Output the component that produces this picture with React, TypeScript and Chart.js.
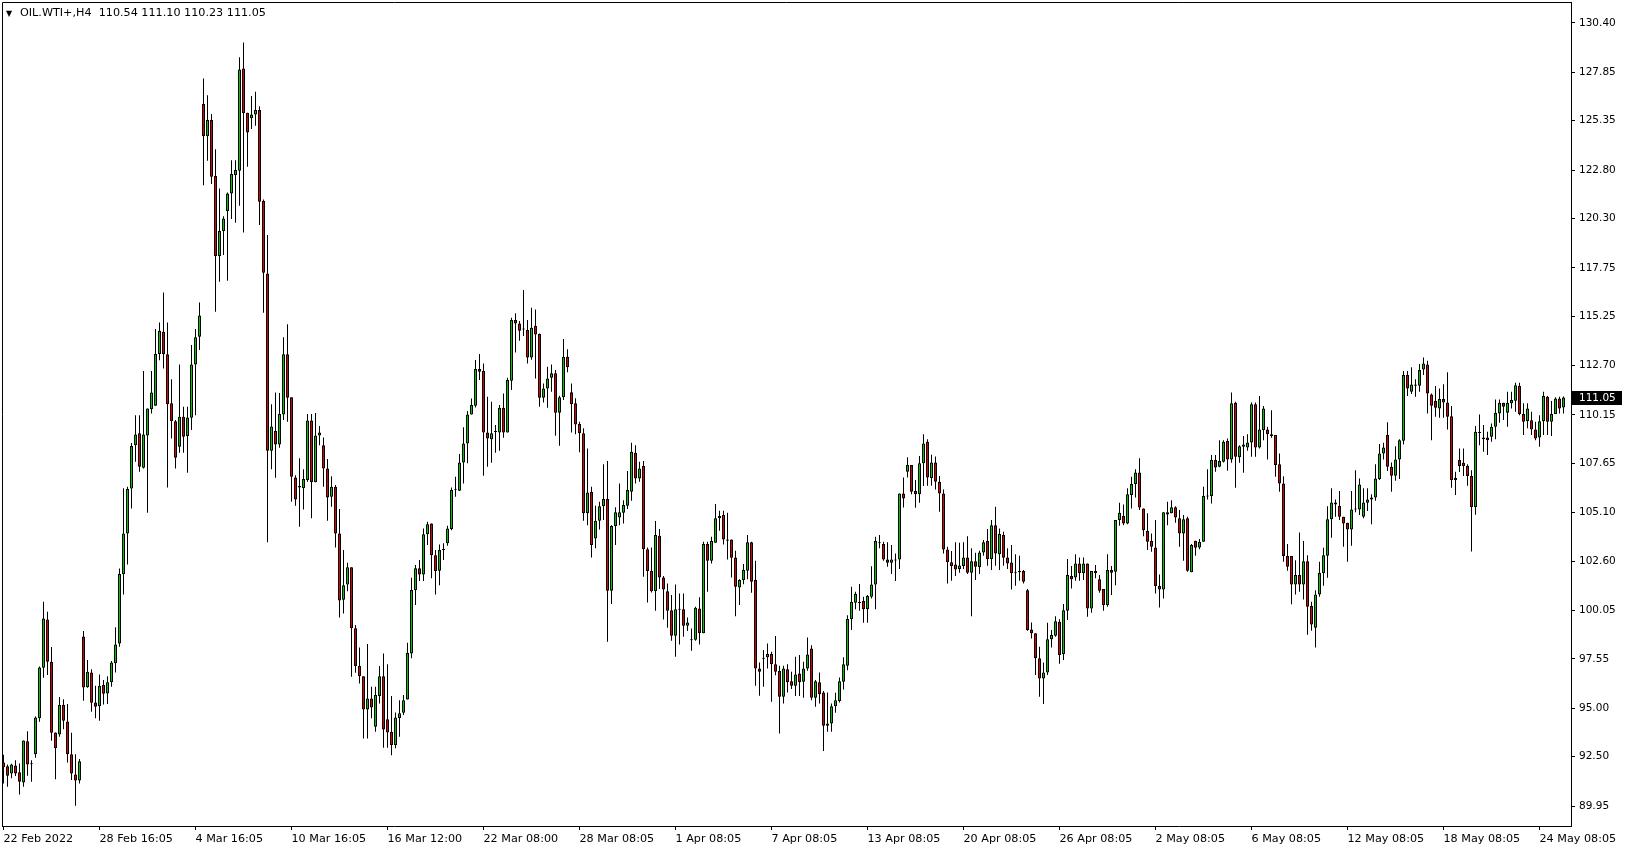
import React, { useEffect, useRef } from 'react';
import { Chart, registerables } from 'chart.js';

Chart.register(...registerables);

// ---- data (H4 bars, index 0 = 22 Feb 2022 00:00) ----
const opens: number[] = [
  92.20, 92.01, 91.63, 92.05, 91.70, 91.17, 93.30, 92.13, 92.62, 94.48,
  97.09, 99.59, 97.40, 93.75, 93.65, 95.17, 94.32, 92.62, 91.58, 91.27,
  98.71, 96.09, 96.85, 95.30, 95.11, 96.20, 95.77, 96.34, 97.32, 98.35,
  101.92, 104.03, 106.35, 108.59, 109.20, 107.42, 109.09, 110.44, 110.63, 113.30,
  114.45, 113.28, 110.75, 109.83, 108.51, 110.06, 109.06, 110.01, 112.76, 114.19,
  126.21, 124.55, 125.38, 122.49, 118.36, 119.65, 120.68, 121.59, 122.54, 122.76,
  128.05, 125.76, 125.47, 125.67, 125.90, 121.20, 117.46, 108.30, 109.32, 108.63,
  110.18, 113.28, 111.06, 106.92, 106.48, 106.36, 106.79, 109.87, 106.67, 109.09,
  108.58, 107.39, 105.93, 106.44, 104.03, 100.60, 101.40, 102.28, 99.13, 97.18,
  96.66, 94.94, 95.51, 94.04, 95.63, 96.66, 94.43, 93.79, 93.10, 94.50,
  94.77, 95.46, 97.83, 101.11, 102.23, 101.91, 103.99, 104.55, 102.91, 102.10,
  103.18, 103.52, 104.26, 106.30, 106.24, 107.70, 108.68, 110.18, 110.63, 112.52,
  112.42, 109.25, 108.89, 109.29, 109.25, 110.52, 109.25, 111.92, 115.05, 114.88,
  114.59, 114.54, 113.12, 114.74, 114.33, 111.04, 111.52, 112.07, 112.30, 110.27,
  111.06, 113.16, 111.32, 110.75, 109.68, 109.20, 105.07, 106.18, 103.77, 104.69,
  105.44, 105.81, 101.07, 104.41, 104.86, 105.10, 105.46, 106.18, 108.20, 106.87,
  107.51, 103.21, 102.09, 101.05, 103.91, 101.76, 101.05, 100.07, 98.75, 100.12,
  100.12, 99.26, 98.54, 98.54, 100.16, 98.87, 103.48, 102.62, 103.55, 104.81,
  104.98, 103.72, 103.72, 102.79, 101.24, 101.62, 102.10, 103.57, 101.62, 97.06,
  97.58, 97.63, 97.80, 97.27, 96.92, 95.60, 97.02, 96.40, 96.16, 96.80,
  96.37, 97.06, 98.09, 95.54, 96.34, 95.82, 94.10, 94.22, 95.11, 95.37,
  96.37, 97.20, 99.61, 100.45, 100.47, 100.54, 100.12, 100.76, 101.40, 103.55,
  103.48, 102.69, 102.52, 102.69, 102.69, 106.10, 107.22, 107.56, 106.22, 106.05,
  107.65, 108.77, 106.90, 107.70, 106.70, 106.10, 103.20, 102.54, 102.43, 102.19,
  102.35, 102.79, 102.00, 102.60, 102.28, 103.05, 103.64, 102.71, 104.46, 102.95,
  103.95, 102.79, 102.53, 102.02, 102.02, 102.09, 101.10, 99.07, 98.87, 97.58,
  96.54, 96.85, 98.56, 98.75, 99.47, 97.80, 100.04, 101.83, 101.76, 102.48,
  101.97, 102.48, 100.16, 102.09, 101.66, 101.16, 100.33, 102.14, 102.05, 104.72,
  104.93, 104.55, 106.01, 106.58, 107.18, 105.32, 104.17, 103.64, 103.31, 101.31,
  101.14, 105.12, 105.07, 105.38, 104.81, 104.03, 104.81, 102.02, 103.65, 103.31,
  103.60, 105.96, 105.96, 107.82, 107.48, 107.73, 108.80, 107.85, 110.78, 107.96,
  108.51, 108.47, 108.73, 110.71, 108.47, 109.37, 109.40, 109.16, 109.11, 107.61,
  106.61, 102.86, 102.86, 101.40, 101.88, 101.40, 102.60, 100.28, 99.16, 100.88,
  101.97, 102.88, 104.77, 105.63, 105.46, 104.89, 104.58, 104.24, 105.27, 105.27,
  104.89, 105.61, 105.79, 105.89, 106.84, 108.16, 109.11, 107.48, 107.01, 107.85,
  108.82, 112.21, 111.35, 111.73, 111.66, 112.50, 112.76, 111.21, 110.87, 110.49,
  110.97, 110.80, 110.09, 106.79, 107.82, 107.68, 107.53, 107.00, 105.40, 109.25,
  108.99, 108.99, 109.02, 109.54, 110.23, 110.78, 110.26, 110.75, 110.88, 111.64,
  110.20, 109.83, 109.88, 109.40, 108.99, 109.83, 111.09, 109.80, 110.20, 111.00,
  110.54,
];
const highs: number[] = [
  92.60, 92.10, 92.13, 92.32, 92.15, 93.34, 93.82, 92.32, 94.58, 97.16,
  100.50, 99.99, 98.16, 93.75, 95.58, 95.47, 95.22, 93.74, 92.62, 92.38,
  98.99, 97.49, 97.02, 96.16, 96.75, 96.46, 96.66, 97.44, 99.18, 102.22,
  106.36, 106.44, 108.70, 110.14, 110.14, 112.42, 110.49, 112.42, 114.59, 114.93,
  116.48, 114.93, 112.00, 109.89, 112.76, 110.57, 110.57, 113.76, 114.59, 115.96,
  127.53, 126.67, 125.69, 123.88, 121.85, 120.42, 121.64, 123.31, 123.31, 128.62,
  129.39, 125.76, 126.62, 126.84, 126.10, 121.28, 119.44, 110.71, 111.31, 111.28,
  114.16, 114.84, 111.06, 107.04, 107.91, 107.34, 110.20, 110.20, 110.25, 109.58,
  108.99, 107.87, 106.99, 106.53, 105.29, 103.17, 102.52, 102.28, 99.30, 98.14,
  96.66, 98.32, 96.11, 96.11, 97.18, 97.83, 97.28, 95.63, 94.78, 95.42,
  95.68, 98.38, 101.74, 102.40, 102.66, 104.29, 104.64, 104.55, 103.17, 103.46,
  103.52, 104.43, 106.41, 106.96, 108.13, 109.51, 110.35, 111.00, 112.99, 113.30,
  112.81, 111.09, 110.83, 109.63, 110.66, 111.26, 112.07, 115.17, 115.40, 115.00,
  116.60, 115.05, 115.69, 115.60, 114.36, 111.78, 112.64, 112.76, 112.47, 111.14,
  114.07, 113.55, 111.78, 111.01, 109.80, 109.46, 108.42, 106.44, 105.46, 105.67,
  107.61, 107.77, 104.46, 105.38, 106.61, 105.75, 107.25, 108.72, 108.59, 107.73,
  107.77, 103.31, 103.31, 104.67, 104.26, 101.83, 101.45, 100.85, 101.40, 100.93,
  100.93, 99.69, 99.12, 100.25, 100.73, 103.60, 103.60, 103.86, 105.55, 105.20,
  105.20, 105.10, 103.72, 103.14, 101.66, 102.45, 103.95, 103.60, 102.62, 97.37,
  98.01, 98.35, 97.92, 98.73, 97.20, 97.20, 97.28, 96.89, 97.66, 97.75,
  97.40, 98.66, 98.26, 96.46, 96.85, 95.89, 95.82, 95.25, 95.80, 96.59,
  97.63, 99.81, 101.28, 101.02, 101.42, 100.76, 100.85, 102.34, 103.86, 103.95,
  103.60, 103.57, 103.43, 103.00, 106.10, 106.92, 107.96, 107.56, 106.79, 108.03,
  109.16, 108.90, 108.10, 108.00, 107.00, 106.30, 103.34, 103.12, 103.57, 103.55,
  103.57, 103.89, 103.26, 103.03, 103.14, 103.69, 104.26, 104.72, 105.41, 104.29,
  104.12, 103.26, 103.43, 102.96, 102.88, 102.14, 101.16, 99.43, 98.87, 98.18,
  97.37, 99.42, 99.04, 99.76, 99.60, 100.38, 102.71, 102.35, 102.96, 102.79,
  102.79, 102.48, 102.09, 102.40, 101.88, 101.16, 102.96, 102.35, 104.72, 105.62,
  105.53, 106.36, 106.96, 107.34, 107.91, 105.32, 105.07, 104.03, 104.72, 101.91,
  105.12, 105.67, 105.75, 105.44, 105.24, 104.98, 104.89, 103.48, 103.65, 103.74,
  106.44, 107.35, 108.08, 108.08, 108.85, 108.85, 108.94, 111.31, 110.83, 108.59,
  109.06, 109.16, 110.80, 110.80, 111.13, 110.61, 109.54, 110.40, 109.11, 108.16,
  106.99, 103.48, 102.86, 102.65, 104.08, 103.64, 102.91, 100.50, 101.10, 102.57,
  103.29, 105.44, 106.36, 105.79, 106.22, 104.89, 104.58, 106.22, 107.30, 106.87,
  106.36, 106.36, 106.05, 107.61, 108.65, 108.72, 109.77, 107.70, 108.54, 108.90,
  112.42, 112.42, 112.61, 112.00, 112.78, 113.12, 112.95, 111.26, 111.64, 111.52,
  111.74, 112.35, 110.61, 107.22, 108.42, 108.42, 107.60, 107.30, 109.58, 110.18,
  109.63, 109.28, 109.71, 110.95, 110.95, 110.78, 111.35, 111.35, 111.81, 111.81,
  110.75, 110.75, 110.32, 109.80, 110.14, 111.35, 111.13, 110.87, 111.06, 111.09,
  111.10,
];
const lows: number[] = [
  91.12, 90.95, 91.38, 91.50, 90.55, 90.95, 91.52, 91.20, 92.44, 94.30,
  96.58, 96.72, 93.32, 91.34, 93.53, 93.92, 92.20, 91.29, 89.96, 91.12,
  95.39, 96.06, 94.82, 94.48, 94.35, 95.20, 95.22, 96.11, 96.85, 98.18,
  100.88, 102.43, 105.32, 107.73, 107.22, 107.39, 105.10, 110.23, 110.63, 112.98,
  112.55, 106.41, 108.94, 107.39, 108.20, 108.20, 107.17, 109.37, 110.14, 113.50,
  122.02, 123.28, 122.08, 115.48, 117.03, 118.41, 117.08, 120.27, 120.08, 120.96,
  119.58, 122.97, 124.92, 125.09, 119.96, 115.43, 103.57, 107.34, 106.91, 108.46,
  109.89, 109.80, 105.67, 105.46, 104.38, 105.27, 106.70, 104.81, 106.67, 108.59,
  106.44, 104.69, 105.41, 103.31, 99.69, 99.90, 101.05, 96.63, 96.83, 96.28,
  93.44, 93.44, 94.48, 93.79, 95.25, 92.96, 92.96, 92.58, 92.93, 93.53,
  94.65, 95.46, 97.58, 100.33, 101.57, 101.57, 103.43, 101.71, 100.88, 101.36,
  102.66, 103.39, 104.20, 105.93, 106.22, 106.61, 107.65, 110.18, 110.54, 111.95,
  107.01, 107.48, 107.68, 108.20, 108.30, 108.97, 109.25, 111.44, 113.38, 113.98,
  114.23, 112.81, 113.00, 112.04, 110.58, 110.80, 110.52, 111.35, 109.08, 108.56,
  110.92, 112.35, 109.25, 109.15, 108.22, 104.69, 104.46, 102.79, 103.26, 104.24,
  104.72, 98.44, 100.38, 103.43, 104.46, 104.55, 105.29, 105.72, 106.61, 106.70,
  101.79, 100.47, 100.98, 100.04, 101.16, 99.59, 99.16, 98.49, 97.66, 98.30,
  98.70, 98.99, 97.97, 98.49, 98.30, 98.87, 101.02, 102.48, 103.55, 104.17,
  103.46, 102.69, 101.76, 99.76, 100.33, 101.41, 101.66, 100.97, 96.16, 95.65,
  96.11, 97.06, 95.34, 96.71, 93.70, 95.25, 95.82, 95.99, 95.63, 95.63,
  95.54, 96.94, 95.42, 95.08, 95.25, 92.79, 93.79, 93.79, 94.77, 95.30,
  95.97, 96.97, 99.04, 100.12, 100.04, 99.42, 99.42, 100.67, 100.12, 103.26,
  102.62, 102.31, 101.93, 101.57, 102.19, 105.37, 106.92, 106.06, 105.36, 105.62,
  106.48, 106.50, 106.50, 106.30, 105.15, 103.00, 101.45, 101.59, 101.83, 102.00,
  102.19, 101.93, 99.76, 101.62, 101.93, 102.88, 102.36, 102.14, 102.36, 102.14,
  102.36, 102.19, 101.14, 101.33, 101.59, 101.45, 99.00, 98.61, 96.72, 95.60,
  95.22, 96.72, 98.14, 98.70, 97.30, 97.50, 99.56, 101.19, 101.59, 101.59,
  101.62, 99.73, 99.93, 101.71, 100.97, 100.04, 100.24, 100.85, 101.36, 104.43,
  104.46, 104.51, 105.32, 105.89, 105.24, 103.89, 103.17, 103.08, 100.93, 100.21,
  100.67, 104.46, 105.07, 104.58, 103.34, 102.62, 102.05, 102.02, 102.88, 103.21,
  103.60, 105.79, 105.58, 107.22, 107.45, 107.70, 107.27, 107.68, 106.39, 107.68,
  107.17, 108.30, 107.99, 107.99, 108.42, 108.85, 107.85, 108.97, 106.96, 106.18,
  102.57, 102.10, 100.37, 100.88, 101.02, 100.62, 98.80, 99.00, 98.14, 100.76,
  101.33, 101.74, 103.81, 104.89, 104.72, 103.34, 102.57, 103.40, 105.12, 104.98,
  104.81, 105.19, 104.51, 105.72, 106.79, 107.85, 107.25, 106.18, 106.75, 106.84,
  108.63, 111.13, 111.23, 111.09, 111.35, 112.21, 110.23, 108.85, 110.06, 110.01,
  110.01, 109.40, 106.39, 106.01, 107.20, 107.00, 106.50, 103.10, 105.00, 108.59,
  108.25, 108.08, 108.77, 108.90, 109.75, 109.89, 109.54, 110.49, 110.32, 110.14,
  109.11, 109.46, 109.11, 108.85, 108.51, 109.11, 109.11, 109.06, 110.20, 110.23,
  110.23,
];
const closes: number[] = [
  91.96, 91.52, 92.10, 91.63, 91.20, 93.34, 92.10, 92.13, 94.53, 97.11,
  99.64, 97.40, 93.74, 92.93, 95.17, 94.36, 92.62, 91.63, 91.27, 92.27,
  96.08, 96.89, 95.29, 95.08, 96.16, 95.75, 96.34, 97.37, 98.30, 101.93,
  104.03, 106.32, 108.55, 109.14, 107.47, 109.14, 110.49, 111.31, 113.30, 114.50,
  113.28, 110.70, 109.83, 107.94, 110.06, 109.03, 110.02, 112.76, 114.16, 115.29,
  124.55, 125.38, 122.45, 118.36, 119.65, 120.30, 121.59, 122.59, 122.80, 127.99,
  125.73, 124.74, 125.67, 125.90, 121.16, 117.50, 108.30, 109.56, 108.63, 110.20,
  113.28, 111.04, 106.96, 105.79, 106.41, 106.84, 109.87, 106.67, 109.09, 109.25,
  107.39, 105.89, 106.44, 104.03, 100.57, 101.35, 102.28, 99.13, 97.18, 96.66,
  94.94, 95.51, 95.04, 95.68, 96.66, 93.91, 93.75, 93.10, 94.53, 94.75,
  95.42, 97.87, 101.11, 102.23, 101.91, 103.99, 104.51, 102.91, 102.09, 103.17,
  103.22, 104.29, 106.27, 106.33, 107.70, 108.68, 110.18, 110.66, 112.52, 112.38,
  109.25, 108.94, 109.20, 109.30, 110.52, 109.25, 111.95, 115.05, 114.88, 114.50,
  114.59, 113.12, 114.66, 114.31, 111.04, 111.52, 112.04, 112.30, 110.27, 111.06,
  113.16, 112.61, 110.70, 109.66, 109.20, 105.07, 106.15, 103.43, 104.69, 105.44,
  105.81, 101.07, 104.41, 105.12, 105.12, 105.50, 106.27, 108.25, 106.87, 107.39,
  103.21, 102.09, 101.05, 103.95, 101.76, 101.14, 100.04, 98.75, 100.12, 100.12,
  99.26, 99.43, 98.54, 100.19, 98.87, 103.48, 102.62, 103.64, 104.81, 104.93,
  103.72, 103.65, 102.78, 101.28, 101.62, 102.14, 103.57, 101.54, 97.06, 96.89,
  97.58, 97.80, 97.27, 96.89, 95.60, 97.06, 96.34, 96.16, 96.75, 96.34,
  97.06, 97.78, 95.54, 96.40, 95.73, 94.10, 94.22, 95.11, 95.42, 96.40,
  97.27, 99.61, 100.50, 100.90, 100.47, 100.12, 100.80, 101.40, 103.64, 103.55,
  102.69, 102.52, 102.69, 102.64, 106.10, 105.84, 107.56, 106.18, 106.05, 107.65,
  108.68, 106.92, 107.70, 106.70, 106.10, 103.20, 102.54, 102.35, 102.17, 102.38,
  102.79, 102.00, 102.60, 102.31, 103.05, 103.57, 102.71, 104.46, 103.00, 104.00,
  102.78, 102.48, 101.97, 101.97, 102.09, 101.54, 99.04, 98.87, 97.58, 96.54,
  96.85, 98.56, 98.78, 99.50, 97.75, 100.07, 101.88, 101.66, 102.48, 101.97,
  102.48, 100.16, 102.09, 101.97, 101.07, 100.33, 102.14, 102.00, 104.72, 105.10,
  104.55, 106.06, 106.58, 107.18, 105.37, 104.20, 103.60, 103.34, 101.31, 101.14,
  105.12, 105.01, 105.38, 104.86, 104.03, 104.77, 102.10, 103.43, 103.29, 103.60,
  105.96, 105.96, 107.82, 107.44, 107.77, 108.77, 107.85, 110.75, 107.99, 108.54,
  108.63, 108.73, 110.71, 108.47, 109.40, 110.49, 109.16, 109.06, 107.56, 106.61,
  102.86, 102.31, 101.40, 101.88, 101.40, 102.60, 100.24, 99.33, 100.88, 102.00,
  102.91, 104.77, 105.63, 105.53, 104.89, 104.55, 104.24, 105.27, 105.32, 106.56,
  105.63, 105.79, 105.89, 106.87, 108.16, 108.47, 107.48, 107.01, 107.85, 108.85,
  112.21, 111.52, 111.73, 111.66, 112.47, 112.81, 111.26, 110.63, 110.52, 110.97,
  110.80, 110.06, 106.79, 106.90, 107.51, 107.51, 107.00, 105.40, 109.28, 109.25,
  108.89, 108.85, 109.54, 110.26, 110.78, 110.58, 110.78, 110.92, 111.69, 110.20,
  109.80, 110.49, 109.40, 108.94, 109.83, 111.13, 109.80, 110.20, 111.00, 110.49,
  111.05,
];

const timeTickBars: number[] = [0, 24, 48, 72, 96, 120, 144, 168, 192, 216, 240, 264, 288, 312, 336, 360, 384];
const timeTickLabels: string[] = [
  '22 Feb 2022', '28 Feb 16:05', '4 Mar 16:05', '10 Mar 16:05', '16 Mar 12:00', '22 Mar 08:00',
  '28 Mar 08:05', '1 Apr 08:05', '7 Apr 08:05', '13 Apr 08:05', '20 Apr 08:05', '26 Apr 08:05',
  '2 May 08:05', '6 May 08:05', '12 May 08:05', '18 May 08:05', '24 May 08:05',
];
const priceTicks: number[] = [
  130.40, 127.85, 125.35, 122.80, 120.30, 117.75, 115.25, 112.70, 110.15,
  107.65, 105.10, 102.60, 100.05, 97.55, 95.00, 92.50, 89.95,
];
const symbolName = 'OIL.WTI+,H4';
const lastBar = { open: 110.54, high: 111.10, low: 110.23, close: 111.05 };

const BULL = '#00c800';
const BEAR = '#dc0000';
const FONT = 'DejaVu Sans';
const Y_FONT_SIZE = 10.5;
const X_FONT_SIZE = 11.2;

const W = 1629;
const H = 850;

export default function App() {
  const ref = useRef<HTMLCanvasElement>(null);

  useEffect(() => {
    const canvas = ref.current;
    if (!canvas) return;

    const wickData = highs.map((h, i) => ({ x: i, y: [lows[i], h] }));
    const bodyData = opens.map((o, i) => {
      const c = closes[i];
      if (Math.abs(o - c) < 0.05) {
        const m = (o + c) / 2;
        return { x: i, y: [m - 0.026, m + 0.026] };
      }
      return { x: i, y: [o, c] };
    });
    const bodyColors = opens.map((o, i) => (closes[i] >= o ? BULL : BEAR));

    const overlay = {
      id: 'mt4overlay',
      afterDraw(chart: any) {
        const { ctx, chartArea } = chart;
        const yScale = chart.scales.y;
        ctx.save();
        // frame left & top
        ctx.strokeStyle = '#000';
        ctx.lineWidth = 1;
        ctx.beginPath();
        ctx.moveTo(chartArea.left + 0.5, chartArea.bottom);
        ctx.lineTo(chartArea.left + 0.5, chartArea.top + 0.5);
        ctx.lineTo(chartArea.right, chartArea.top + 0.5);
        ctx.stroke();
        // header
        ctx.fillStyle = '#000';
        ctx.textBaseline = 'middle';
        ctx.textAlign = 'left';
        ctx.font = `8px ${FONT}`;
        ctx.fillText('\u25BC', 6, 13.5);
        ctx.font = `${X_FONT_SIZE}px ${FONT}`;
        ctx.fillText(
          `${symbolName}  ${lastBar.open.toFixed(2)} ${lastBar.high.toFixed(2)} ${lastBar.low.toFixed(2)} ${lastBar.close.toFixed(2)}`,
          20,
          13.5
        );
        // last price tag
        ctx.font = `${Y_FONT_SIZE}px ${FONT}`;
        const py = Math.round(yScale.getPixelForValue(lastBar.close));
        ctx.fillStyle = '#000';
        ctx.fillRect(chartArea.right + 1, py - 7, 50, 14);
        ctx.fillStyle = '#fff';
        ctx.fillText(lastBar.close.toFixed(2), chartArea.right + 8, py + 0.5);
        ctx.restore();
      },
    };

    const chart = new Chart(canvas, {
      type: 'bar',
      data: {
        datasets: [
          {
            label: 'bodies',
            data: bodyData as any,
            backgroundColor: bodyColors,
            borderColor: '#000',
            borderWidth: 1,
            borderSkipped: false,
            barThickness: 3,
            grouped: false,
            order: 1,
            inflateAmount: 0,
          } as any,
          {
            label: 'wicks',
            data: wickData as any,
            backgroundColor: '#000',
            borderWidth: 0,
            barThickness: 1,
            grouped: false,
            order: 2,
            inflateAmount: 0,
          } as any,
        ],
      },
      options: {
        animation: false,
        responsive: false,
        devicePixelRatio: 1,
        events: [],
        layout: { padding: { left: 2, top: 2, right: 0, bottom: 0 } },
        plugins: { legend: { display: false }, tooltip: { enabled: false } },
        scales: {
          x: {
            type: 'linear',
            offset: false,
            min: -0.375,
            max: 391.875,
            afterBuildTicks: (scale: any) => {
              scale.ticks = timeTickBars.map((v) => ({ value: v }));
            },
            afterFit: (scale: any) => {
              scale.height = 24;
              scale.paddingLeft = 0;
              scale.paddingRight = 0;
            },
            grid: { display: true, offset: false, drawOnChartArea: false, drawTicks: true, tickLength: 4, color: '#000' },
            border: { display: true, color: '#000', width: 1 },
            ticks: {
              autoSkip: false,
              maxRotation: 0,
              minRotation: 0,
              align: 'start',
              padding: 2,
              color: '#000',
              font: { family: FONT, size: X_FONT_SIZE },
              callback: (_v: any, idx: number) => timeTickLabels[idx],
            },
          },
          y: {
            type: 'linear',
            position: 'right',
            min: 88.92,
            max: 131.48,
            afterBuildTicks: (scale: any) => {
              scale.ticks = priceTicks.map((v) => ({ value: v }));
            },
            afterFit: (scale: any) => {
              scale.width = 58;
              scale.paddingTop = 0;
              scale.paddingBottom = 0;
            },
            grid: { display: true, drawOnChartArea: false, drawTicks: true, tickLength: 4, color: '#000' },
            border: { display: true, color: '#000', width: 1 },
            ticks: {
              padding: 4,
              color: '#000',
              font: { family: FONT, size: Y_FONT_SIZE },
              callback: (v: any) => Number(v).toFixed(2),
            },
          },
        },
      },
      plugins: [overlay],
    });

    return () => chart.destroy();
  }, []);

  return (
    <div style={{ position: 'fixed', left: 0, top: 0, width: W, height: H, background: '#fff' }}>
      <canvas ref={ref} width={W} height={H} style={{ width: W, height: H, display: 'block' }} />
    </div>
  );
}
